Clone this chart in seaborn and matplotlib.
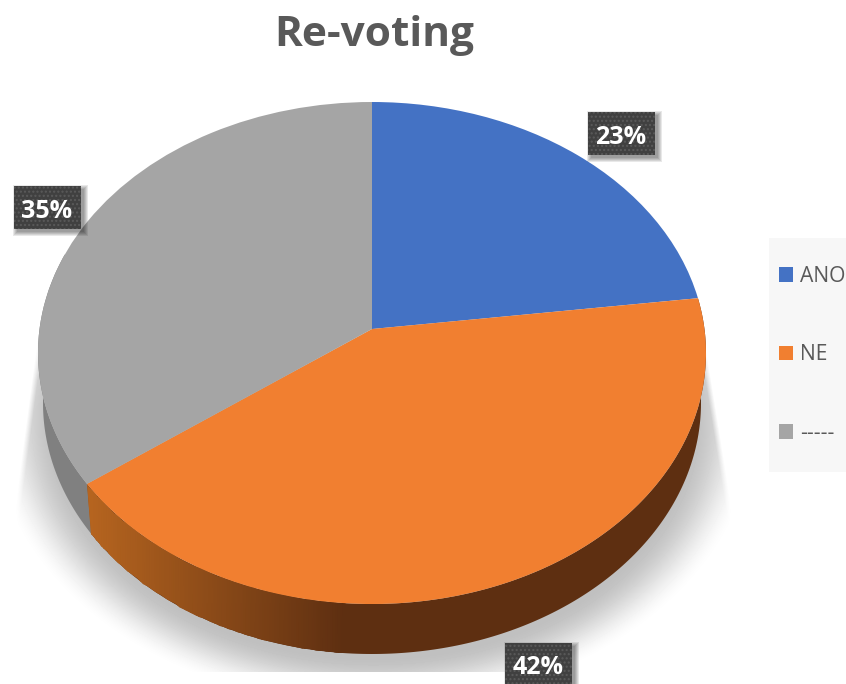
import numpy as np
import matplotlib
matplotlib.use("Agg")
import matplotlib.pyplot as plt
from matplotlib.colors import LinearSegmentedColormap
from matplotlib.patches import Rectangle, PathPatch
from matplotlib.path import Path
from matplotlib.transforms import Transform
import seaborn as sns

categories = ["ANO", "NE", "-----"]
shares = [23, 42, 35]
title = "Re-voting"

top_colors = ["#4472C4", "#F17F30", "#A5A5A5"]
wall_gray = "#808080"
wall_orange_light = "#B5641F"
wall_orange_dark = "#5E2F11"
label_centres_px = [(621, 133), (538, 664), (47, 207)]
TAG_W, TAG_H = 67, 43

W, H = 846, 684
CX, CY, RX, RY = 372, 353, 334, 251   # outline of the pie's top face, pixels
TILT = 0.0956                         # how far perspective lifts the pie's apex
DEPTH = 50 / RY                       # wall height in data units
FOOT = 0.985                          # the rim's lower edge is a little narrower

sns.set_theme(style="white")
plt.rcParams["font.family"] = ["Open Sans", "DejaVu Sans"]


class Tilt(Transform):
    """Projective map of the unit disc onto itself that moves the centre upwards."""
    input_dims = output_dims = 2
    is_affine = False
    has_inverse = False

    def transform_non_affine(self, values):
        values = np.asarray(values, dtype=float)
        u, v = values[:, 0], values[:, 1]
        w = 1 + TILT * v
        return np.column_stack([u * np.sqrt(1 - TILT ** 2) / w, (v + TILT) / w])


tilt = Tilt()
fig = plt.figure(figsize=(W / 100, H / 100), dpi=100, facecolor="white")

# Soft drop shadow under the pie
bg = fig.add_axes([0, 0, 1, 1], zorder=0)
yy, xx = np.mgrid[0:H, 0:W]
r = np.hypot((xx - 373) / 358, (yy - 420) / 268)
t = np.clip((1.08 - r) / 0.2, 0, 1)
shade = t * t * (3 - 2 * t)
left_edge = 38 - (yy - 330) * (20 / 150)
right_edge = 698 + (yy - 300) * (29 / 180)
edge_fade = np.clip((xx - left_edge) / 6, 0, 1) * np.clip((right_edge - xx) / 6, 0, 1)
vertical = np.clip((yy - 300) / 80, 0, 1) * (yy < 672)
image = 1 - 0.25 * shade * edge_fade * vertical
bg.imshow(image, cmap="gray", vmin=0, vmax=1, extent=(0, W, H, 0), aspect="auto")
bg.axis("off")

ax = fig.add_axes([0, 0, 1, 1], zorder=1)
ax.patch.set_visible(False)

fractions = np.cumsum([0] + shares) / sum(shares)


def rim(f):
    theta = 2 * np.pi * np.asarray(f)
    return tilt.transform_non_affine(np.column_stack([np.sin(theta), np.cos(theta)]))


def wall_outline(f0, f1):
    p = rim(np.linspace(f0, f1, 200))
    lower = np.column_stack([p[:, 0] * FOOT, p[:, 1] - DEPTH])
    return np.vstack([p, lower[::-1]])


# Outer wall: flat gray under the gray slice, shaded along the rim under the orange one
gray_start, gray_end = fractions[2], 0.8
ax.fill(*wall_outline(gray_start, gray_end).T, color=wall_gray, lw=0, zorder=1)

orange_start, orange_end = fractions[1], fractions[2]
outline = wall_outline(max(orange_start, 0.2), orange_end)
ax.fill(*outline.T, color=wall_orange_dark, lw=0, zorder=1)
shading = LinearSegmentedColormap.from_list("wall", [wall_orange_light, wall_orange_dark])
xs = (np.linspace(60, 345, 60) - CX) / RX
mesh = ax.pcolormesh(
    np.vstack([xs, xs]),
    np.vstack([np.full_like(xs, -1.6), np.full_like(xs, 0.4)]),
    np.vstack([np.linspace(0, 1, 60)] * 2) * (345 - 60) / (345 - 92) - (92 - 60) / (345 - 92),
    cmap=shading, vmin=0, vmax=1, shading="gouraud", zorder=1.1,
)
mesh.set_clip_path(PathPatch(Path(outline), transform=ax.transData))

# Top face
wedges, _ = ax.pie(
    shares, colors=sns.color_palette(top_colors), startangle=90, counterclock=False,
    radius=1, wedgeprops={"linewidth": 0},
)
for wedge in wedges:
    wedge.set_transform(tilt + ax.transData)
    wedge.set_zorder(2)

ax.set_aspect("auto")
ax.set_xlim((0 - CX) / RX, (W - CX) / RX)
ax.set_ylim((CY - H) / RY, CY / RY)
ax.axis("off")

fig.text(374.5, H - 46, title, transform=None, ha="center", va="baseline",
         fontsize=30.5, fontweight="bold", color="#595959")

# Legend panel
fig.add_artist(Rectangle((769, H - 472), 90, 234, transform=None, facecolor="#F7F7F7",
                         edgecolor="none", zorder=2))

# Percentage tags: soft shadow, dotted dark box, white text
for share, (x, y) in zip(shares, label_centres_px):
    x0, y0 = x - TAG_W / 2, H - y - TAG_H / 2
    for grow in (4, 3, 2, 1, 0):
        fig.add_artist(Rectangle((x0 + 3 - grow, y0 - 3 - grow), TAG_W + 2 * grow, TAG_H + 2 * grow,
                                 transform=None, facecolor="black", alpha=0.09,
                                 edgecolor="none", zorder=5))
    fig.add_artist(Rectangle((x0, y0), TAG_W, TAG_H, transform=None, facecolor="#404040",
                             edgecolor="#5a5a5a", hatch="....", linewidth=0, zorder=6))
    fig.text(x, H - y - 1, f"{share}%", transform=None, ha="center", va="center_baseline",
             fontsize=18, fontweight="bold", color="white", zorder=7)

legend = fig.legend(
    handles=wedges, labels=categories, loc="upper left",
    bbox_to_anchor=(779 / W, 1 - 266 / H), bbox_transform=fig.transFigure,
    frameon=False, fontsize=15.2, labelcolor="#595959", borderpad=0, borderaxespad=0,
    labelspacing=2.72, handlelength=0.66, handleheight=0.66, handletextpad=0.34,
)
legend.set_zorder(3)

fig.savefig("out.png", dpi=100)
